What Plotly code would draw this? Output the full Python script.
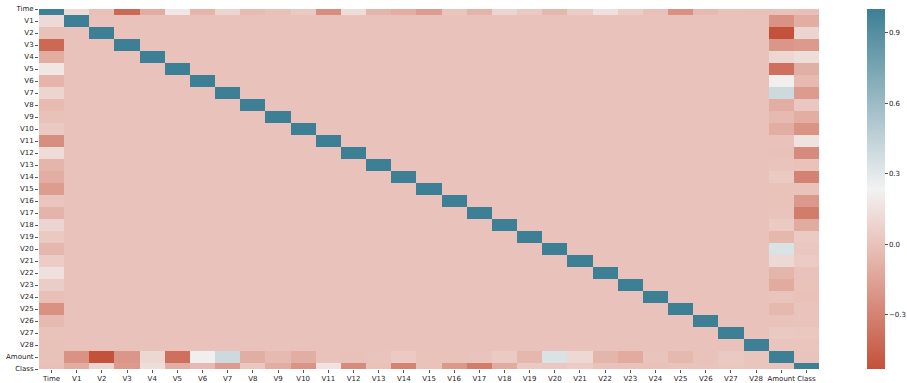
import plotly.graph_objects as go

# Feature names of the credit card transactions table
features = ["Time"] + [f"V{i}" for i in range(1, 29)] + ["Amount", "Class"]

# Correlation of Time with V1..V28, Amount, Class
time_corr = [0.117, -0.011, -0.420, -0.105, 0.173, -0.063, 0.085, -0.037, -0.009, 0.031,
             -0.248, 0.124, -0.066, -0.099, -0.183, 0.012, -0.073, 0.090, 0.029, -0.051,
             0.045, 0.144, 0.051, -0.016, -0.233, -0.041, -0.005, -0.009, -0.011, -0.012]

# Correlation of Amount with V1..V28
amount_corr = [-0.228, -0.531, -0.211, 0.099, -0.386, 0.216, 0.397, -0.103, -0.044, -0.102,
               0.000, -0.010, 0.005, 0.034, -0.003, -0.004, 0.007, 0.036, -0.056, 0.339,
               0.106, -0.065, -0.113, 0.005, -0.048, -0.003, 0.029, 0.010]

# Correlation of Class with V1..V28, Amount
class_corr = [-0.101, 0.091, -0.193, 0.133, -0.095, -0.044, -0.187, 0.020, -0.098, -0.217,
              0.155, -0.261, -0.005, -0.303, -0.004, -0.197, -0.327, -0.111, 0.035, 0.020,
              0.040, 0.001, -0.003, -0.007, 0.003, 0.004, 0.018, 0.010, 0.006]

# Assemble the symmetric correlation matrix (PCA components are mutually uncorrelated)
n = len(features)
corr = [[1.0 if i == j else 0.0 for j in range(n)] for i in range(n)]
for k, v in enumerate(time_corr, start=1):
    corr[0][k] = corr[k][0] = v
amt = n - 2
cls = n - 1
for k, v in enumerate(amount_corr, start=1):
    corr[amt][k] = corr[k][amt] = v
for k, v in enumerate(class_corr, start=1):
    corr[cls][k] = corr[k][cls] = v

zmin = min(min(r) for r in corr)
zmax = 1.0
zero_pos = (0 - zmin) / (zmax - zmin)

idx = list(range(n))
font = dict(family="DejaVu Sans", size=7, color="#222222")

fig = go.Figure(go.Heatmap(
    z=corr, x=idx, y=idx,
    zmin=zmin, zmax=zmax,
    colorscale=[[0.0, "#c4513a"], [zero_pos, "#e9c3bb"], [0.5, "#f2f2f2"], [1.0, "#3d7f94"]],
    colorbar=dict(
        x=1.062, xanchor="left", xref="paper", xpad=0,
        y=0.5, yanchor="middle", len=1.0, lenmode="fraction", ypad=0,
        thickness=18, thicknessmode="pixels",
        outlinewidth=0,
        tickvals=[-0.3, 0.0, 0.3, 0.6, 0.9],
        tickformat=".1f",
        ticks="outside", ticklen=3, tickcolor="#555", tickwidth=0.8,
        tickfont=font,
    ),
    hoverongaps=False,
))

fig.update_layout(
    width=907, height=383,
    margin=dict(l=39, r=88, t=9, b=14, autoexpand=False),
    paper_bgcolor="white", plot_bgcolor="white",
)
fig.update_xaxes(
    range=[-0.5, n - 0.5], tickvals=idx, ticktext=features,
    tickangle=0, ticks="outside", ticklen=3, tickcolor="#555", tickwidth=0.8,
    tickfont=font, showgrid=False, zeroline=False, showline=False, automargin=False,
)
fig.update_yaxes(
    range=[n - 1, 0], tickvals=idx, ticktext=features,
    ticks="outside", ticklen=3, tickcolor="#555", tickwidth=0.8,
    tickfont=font, showgrid=False, zeroline=False, showline=False, automargin=False,
)

fig.write_html("out.html")
